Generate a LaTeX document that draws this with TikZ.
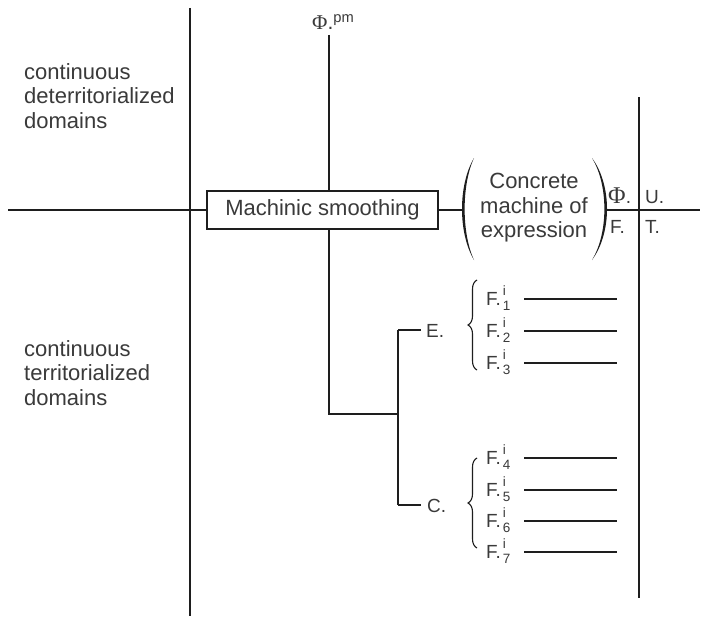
\documentclass[tikz,border=0pt]{standalone}
\usepackage{fontspec}
\setmainfont{Liberation Sans}
\newfontfamily\phifont{Liberation Serif}
\usetikzlibrary{decorations.pathreplacing}
\definecolor{ink}{HTML}{1E1E1E}
\definecolor{txt}{HTML}{3A3A3A}
\newcommand\Flab[1]{F.\hspace{2pt}\rlap{\raisebox{9.5pt}{\fontsize{13.5}{13.5}\selectfont i}}\raisebox{-5pt}{\fontsize{13.5}{13.5}\selectfont #1}}
\begin{document}
\begin{tikzpicture}[x=1pt,y=-1pt,
  ln/.style={draw=ink,line width=1.5pt},
  big/.style={text=txt,font=\fontsize{22}{24.5}\selectfont,inner sep=0pt},
  sm/.style={text=txt,font=\fontsize{19}{21}\selectfont,inner sep=0pt},
  brc/.style={draw=ink,line width=1.1pt,decorate,decoration={brace,amplitude=9pt}},
  fline/.style={draw=ink,line width=1.2pt},
  paren/.style={fill=ink}]
\fill[white] (0,0) rectangle (709,618);
\useasboundingbox (0,0) rectangle (709,618);

% main axes
\coordinate (L1t) at (190,8);
\coordinate (L1b) at (190,616);
\coordinate (R1t) at (639,97);
\coordinate (R1b) at (639,598);
\coordinate (Hl) at (8,210);
\coordinate (Hr) at (700,210);
\draw[ln] (L1t) -- (L1b);
\draw[ln] (R1t) -- (R1b);

% left texts
\node[big,anchor=west,align=left] (det) at (24,96) {continuous\\deterritorialized\\domains};
\node[big,anchor=west,align=left] (ter) at (24,373) {continuous\\territorialized\\domains};

% machinic smoothing box
\node[big,draw=ink,line width=1.5pt,minimum width=231pt,minimum height=38pt] (ms) at (322.5,210) {Machinic smoothing};
\draw[ln] (Hl) -- (ms.west);

% concrete machine
\coordinate (lp) at (462,210);
\coordinate (rp) at (606,210);
\draw[ln] (ms.east) -- (lp);
\draw[ln] (rp) -- (Hr);
\node[big,align=center] (cme) at (534,208) {Concrete\\machine of\\expression};
\fill[paren] (474,158) .. controls (458,185) and (458,233) .. (474,260)
  .. controls (461.5,233) and (461.5,185) .. (474,158);
\fill[paren] (592,158) .. controls (612,185) and (612,233) .. (592,260)
  .. controls (608.5,233) and (608.5,185) .. (592,158);

% right labels
\node[sm,anchor=base west] (phi) at (608,203) {{\phifont\fontsize{24}{24}\selectfont Φ}.};
\node[sm,anchor=base west] (U) at (645,203) {U.};
\node[sm,anchor=base west] (F) at (610,233) {F.};
\node[sm,anchor=base west] (T) at (645,233) {T.};

% Phi pm
\node[anchor=base west,text=txt,inner sep=0pt,font=\fontsize{21}{21}\selectfont] (phipm) at (312,30) {{\phifont Φ}.\textsuperscript{pm}};
\coordinate (ptop) at (329,35);
\draw[ln] (ptop) -- (ptop |- ms.north);

% tree below
\coordinate (j1) at (329,414);
\coordinate (j2) at (398,414);
\coordinate (jE) at (398,330);
\coordinate (jC) at (398,505);
\coordinate (eE) at (421,330);
\coordinate (eC) at (421,505);
\draw[ln] (ptop |- ms.south) -- (j1) -- (j2);
\draw[ln] (jE) -- (jC);
\draw[ln] (jE) -- (eE);
\draw[ln] (jC) -- (eC);
\node[sm,anchor=base west] (E) at (426,337) {E.};
\node[sm,anchor=base west] (C) at (427,512) {C.};

% braces
\coordinate (bEb) at (477,370);
\coordinate (bEt) at (477,280);
\coordinate (bCb) at (477,548);
\coordinate (bCt) at (477,458);
\draw[brc] (bEb) -- (bEt);
\draw[brc] (bCb) -- (bCt);

% F rows
\foreach \i/\y in {1/298,2/330,3/362,4/457,5/489,6/520,7/551}{
  \node[sm,anchor=base west] (f\i) at (486,\y+7) {\Flab{\i}};
  \coordinate (fa\i) at (524,\y+1);
  \coordinate (fb\i) at (617,\y+1);
  \draw[fline] (fa\i) -- (fb\i);
}
\end{tikzpicture}
\end{document}
